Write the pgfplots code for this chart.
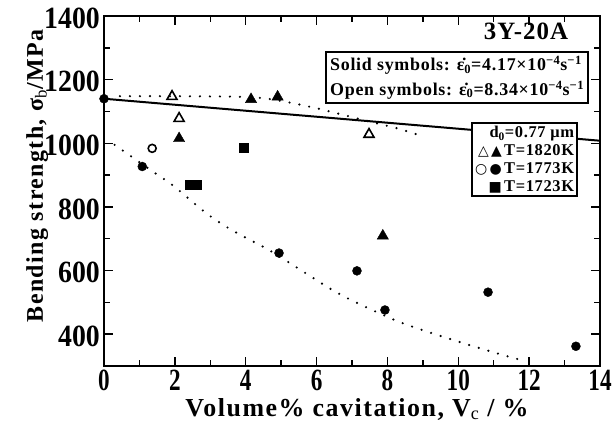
\documentclass[border=0pt]{standalone}
\usepackage{pgfplots}
\pgfplotsset{compat=1.18}
\usepackage{fontspec}
\setmainfont{Liberation Serif}
\newfontfamily\symfont{DejaVu Sans}
\newfontfamily\ytickfont[FakeStretch=0.9]{Liberation Serif}
\newfontfamily\xtickfont[FakeStretch=0.75]{Liberation Serif}
\newfontfamily\labfont[LetterSpace=6]{Liberation Serif}
\newfontfamily\boxfont[LetterSpace=4]{Liberation Serif}
\begin{document}
\begin{tikzpicture}
\begin{axis}[
  scale only axis, width=496bp, height=350bp,
  xmin=0, xmax=14, ymin=300, ymax=1400,
  xtick={0,2,...,14}, ytick={400,600,...,1400},
  minor x tick num=1, minor y tick num=1,
  tick align=inside, major tick length=9bp, minor tick length=6bp,
  every tick/.style={line width=1.5bp, black},
  axis line style={line width=2bp},
  /pgf/number format/assume math mode=true,
  /pgf/number format/1000 sep={},
  xticklabel style={font=\xtickfont\bfseries\fontsize{31}{31}\selectfont, inner sep=0bp, anchor=north, yshift=-4bp},
  yticklabel style={font=\ytickfont\bfseries\fontsize{31}{31}\selectfont, inner sep=0bp, anchor=east, xshift=-4bp, yshift=-2bp},
  xlabel={Volume\% cavitation, V$_{\rm c}$ / \%},
  ylabel={Bending strength, σ$_{\rm b}$/MPa},
  xlabel style={font=\labfont\bfseries\fontsize{26}{26}\selectfont, inner sep=0bp,
    at={(rel axis cs:0.51,0)}, anchor=base, yshift=-50bp},
  ylabel style={font=\labfont\bfseries\fontsize{24}{24}\selectfont, inner sep=0bp,
    at={([xshift=-61bp]rel axis cs:0,0.543)}, anchor=base},
  clip=false,
]
\coordinate (sw) at (rel axis cs:0,0);
\coordinate (ne) at (rel axis cs:1,1);
% fitted lines
\addplot[line width=2bp] coordinates {(0,1140) (14,1008)};
\addplot[line width=2.4bp, line cap=round, dash pattern=on 0bp off 10bp, smooth]
  coordinates {(0.45,1148) (2,1148) (3.9,1146) (4.6,1140) (5.33,1126) (6.0,1110) (6.8,1088) (7.5,1068) (8.27,1047) (8.83,1028)};
\addplot[line width=2.4bp, line cap=round, dash pattern=on 0bp off 10bp, smooth]
  coordinates {(0.3,995) (1.38,911) (1.95,867) (2.9,779) (3.64,725) (4.68,663) (5.73,589) (6.75,520) (8.35,438) (10.05,375) (11.18,337) (11.8,318)};
% solid circles (T=1773K)
\addplot[only marks, mark=*, mark size=4.5bp, black] coordinates {
  (0,1140) (1.08,927) (4.94,655) (7.14,599) (7.93,476) (10.84,532) (13.32,362)};
% open circle
\addplot[only marks, mark=o, mark size=4bp, black, mark options={line width=1.6bp}] coordinates {(1.36,984)};
% solid triangles (T=1820K)
\addplot[only marks, mark=triangle*, mark size=6.5bp, black] coordinates {
  (2.12,1015) (4.15,1138) (4.9,1146) (7.87,709)};
% open triangles
\addplot[only marks, mark=triangle, mark size=5.8bp, black, mark options={line width=1.6bp}] coordinates {
  (1.92,1147) (2.12,1078) (7.48,1028)};
% solid squares (T=1723K)
\addplot[only marks, mark=square*, mark size=4.5bp, black] coordinates {
  (2.43,870) (2.63,870) (3.94,987)};
% annotations
\node[anchor=east, font=\boxfont\bfseries\fontsize{25}{25}\selectfont] at (axis cs:13.2,1352) {3Y-20A};
\node[draw, line width=1.8bp, fill=white, anchor=north east, align=left, inner sep=4bp,
      font=\boxfont\bfseries\fontsize{18}{25}\selectfont] at (axis cs:13.69,1290)
  {Solid symbols: ε̇\textsubscript{0}=4.17×10\textsuperscript{−4}s\textsuperscript{−1}\\
   Open symbols: ε̇\textsubscript{0}=8.34×10\textsuperscript{−4}s\textsuperscript{−1}};
\node[draw, line width=1.8bp, fill=white, anchor=north east, align=right, inner sep=3bp,
      font=\boxfont\bfseries\fontsize{16.5}{18}\selectfont] at (axis cs:13.38,1066)
  {d\textsubscript{0}=0.77 μm\\
   {\symfont\fontsize{14}{14}\selectfont △\,▲\,}T=1820K\\
   {\symfont\fontsize{14}{14}\selectfont ○\,●\,}T=1773K\\
   {\symfont\fontsize{14}{14}\selectfont ■\,}T=1723K};
\end{axis}
\pgfresetboundingbox
\path ([shift={(-104bp,-57bp)}]sw) rectangle ([shift={(13bp,16bp)}]ne);
\end{tikzpicture}
\end{document}
